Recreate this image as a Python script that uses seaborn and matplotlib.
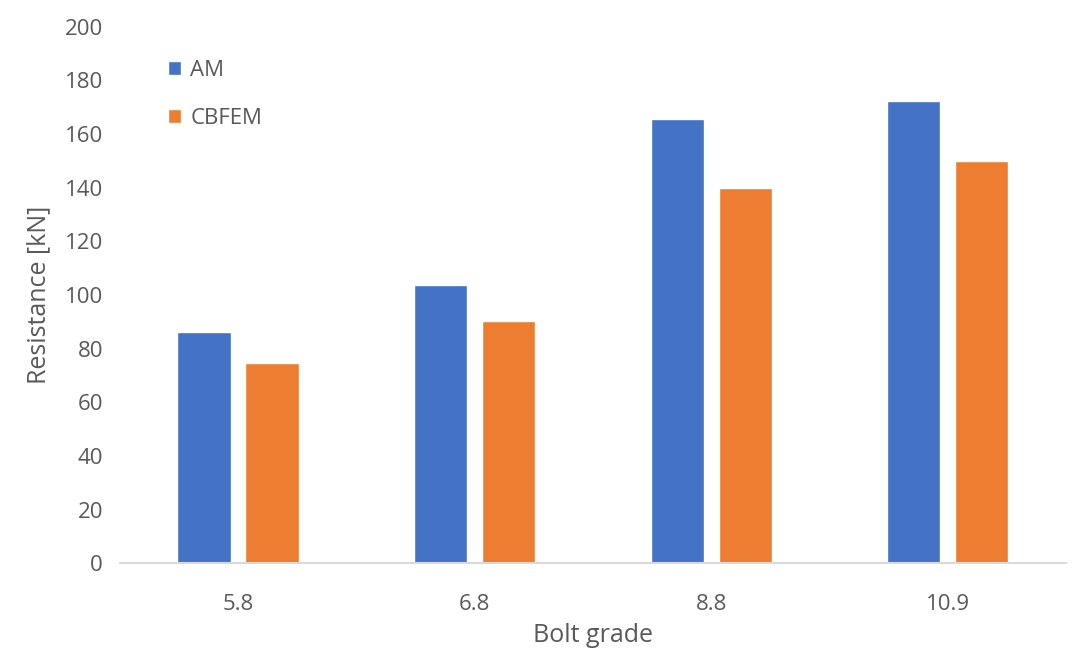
import pandas as pd
import matplotlib
matplotlib.use("Agg")
import matplotlib.pyplot as plt
import seaborn as sns

# values
grades = ["5.8", "6.8", "8.8", "10.9"]
am = [86.2, 103.7, 165.6, 172.4]
cbfem = [74.8, 90.2, 139.8, 150.0]

df = pd.DataFrame({
    "Bolt grade": grades * 2,
    "Resistance": am + cbfem,
    "Method": ["AM"] * 4 + ["CBFEM"] * 4,
})

sns.set_style("white")
plt.rcParams["font.family"] = ["Open Sans", "DejaVu Sans"]
txt = "#595959"

fig = plt.figure(figsize=(10.88, 6.52), dpi=100)
ax = fig.add_axes([0.110, 0.136, 0.870, 0.823])

sns.barplot(data=df, x="Bolt grade", y="Resistance", hue="Method",
            palette=["#4472C4", "#ED7D31"], width=0.575, gap=0.22,
            saturation=1, ax=ax)

ax.set_ylim(0, 200)
ax.set_yticks(range(0, 201, 20))
ax.set_xlim(-0.5, 3.5)
ax.tick_params(axis="both", length=0, labelsize=16, colors=txt, pad=12)
ax.tick_params(axis="x", pad=22)
ax.set_ylabel("Resistance [kN]", fontsize=18, color=txt, labelpad=10)
ax.set_xlabel("Bolt grade", fontsize=18, color=txt, labelpad=6)

for s in ["top", "right", "left"]:
    ax.spines[s].set_visible(False)
ax.spines["bottom"].set_color("#d9d9d9")
ax.spines["bottom"].set_linewidth(1.5)

leg = ax.legend(loc="upper left", bbox_to_anchor=(0.03, 0.975), frameon=False,
                fontsize=16, labelspacing=1.2, handlelength=0.6,
                handleheight=0.6, handletextpad=0.4)
for t in leg.get_texts():
    t.set_color(txt)

fig.savefig("out.png", dpi=100)
